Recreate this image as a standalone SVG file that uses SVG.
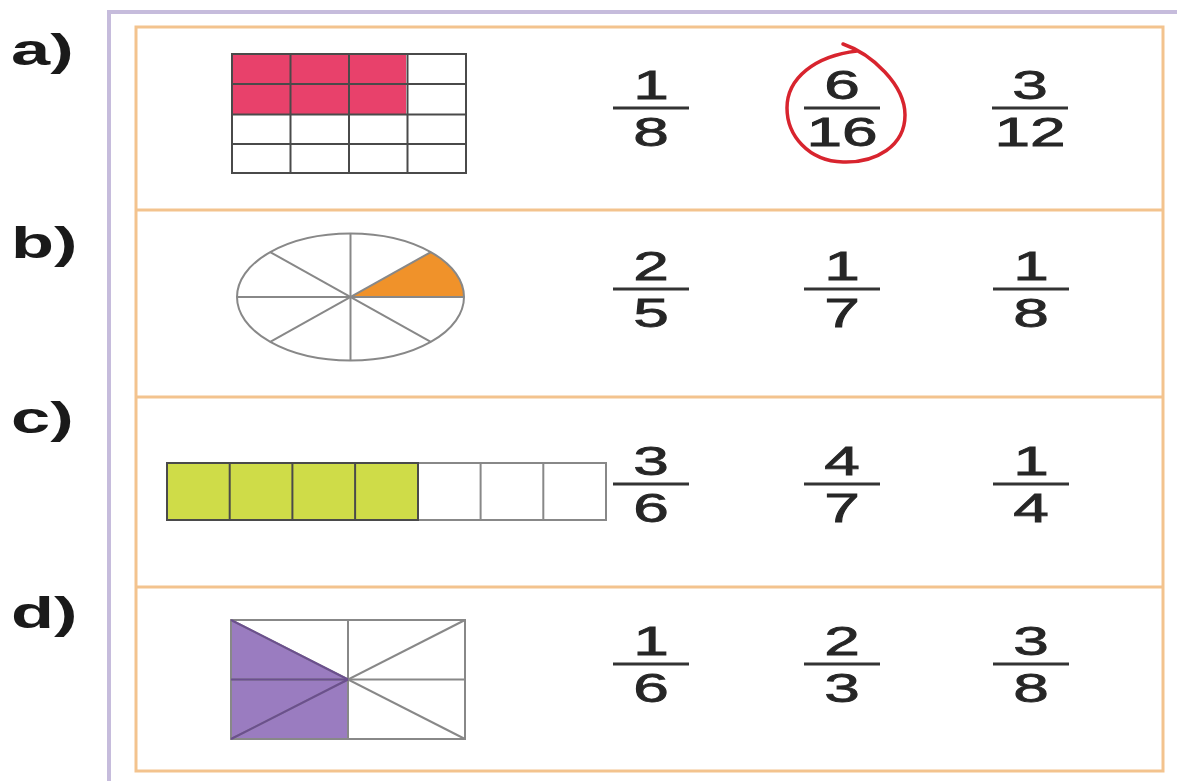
<svg xmlns="http://www.w3.org/2000/svg" width="1177" height="781" viewBox="0 0 1177 781">
<style>
.lbl{font-family:"Liberation Sans",Arial,sans-serif;font-weight:bold;font-size:44px;fill:#1a1a1a}
.num{font-family:"Liberation Sans",Arial,sans-serif;font-size:40px;fill:#262626;stroke:#262626;stroke-width:0.8;text-anchor:middle}
.bar{stroke:#333;stroke-width:3}
.gl{stroke:#4a4a4a;stroke-width:2;fill:none}
.ll{stroke:#888;stroke-width:2;fill:none}
.sep{stroke:#f3c38e;stroke-width:3}
</style>
<rect width="1177" height="781" fill="#fff"/>
<g id="frame">
<path d="M1177,12 H109 V781" fill="none" stroke="#c6bcdc" stroke-width="4"/>
<rect x="136" y="27" width="1027" height="744" fill="none" stroke="#f3c38e" stroke-width="3"/>
<line class="sep" x1="136" y1="210" x2="1163" y2="210"/>
<line class="sep" x1="136" y1="397" x2="1163" y2="397"/>
<line class="sep" x1="136" y1="587" x2="1163" y2="587"/>
</g>
<g id="labels">
<text class="lbl" transform="translate(11,65) scale(1.6,1)">a)</text>
<text class="lbl" transform="translate(11,258) scale(1.6,1)">b)</text>
<text class="lbl" transform="translate(11,433) scale(1.6,1)">c)</text>
<text class="lbl" transform="translate(11,628) scale(1.6,1)">d)</text>
</g>
<g id="row-a">
<rect x="232" y="54" width="174" height="61" fill="#e8416b"/>
<g class="gl">
<rect x="232" y="54" width="234" height="119"/>
<line x1="290.5" y1="54" x2="290.5" y2="173"/>
<line x1="349" y1="54" x2="349" y2="173"/>
<line x1="407.5" y1="54" x2="407.5" y2="173"/>
<line x1="232" y1="84" x2="466" y2="84"/>
<line x1="232" y1="114.5" x2="466" y2="114.5"/>
<line x1="232" y1="144" x2="466" y2="144"/>
</g>
<g id="a-frac">
<text class="num" transform="translate(651,99) scale(1.6,1)">1</text>
<line class="bar" x1="613" y1="108" x2="689" y2="108"/>
<text class="num" transform="translate(651,146) scale(1.6,1)">8</text>
<text class="num" transform="translate(842,99) scale(1.6,1)">6</text>
<line class="bar" x1="804" y1="108" x2="880" y2="108"/>
<text class="num" transform="translate(842,146) scale(1.6,1)">16</text>
<text class="num" transform="translate(1030,99) scale(1.6,1)">3</text>
<line class="bar" x1="992" y1="108" x2="1068" y2="108"/>
<text class="num" transform="translate(1030,146) scale(1.6,1)">12</text>
</g>
<path id="answer-loop" d="M843,44 C872,54 905,85 905,115 C905,146 876,163 843,162 C808,161 787,135 787,108 C787,78 815,56 857,51" fill="none" stroke="#d8242e" stroke-width="3.5" stroke-linecap="round"/>
</g>
<g id="row-b">
<ellipse cx="350.5" cy="297" rx="113.5" ry="63.5" fill="#fff"/>
<path d="M350.5,297 L464,297 A113.5,63.5 0 0 0 430.8,252.1 Z" fill="#f0922a"/>
<g class="ll">
<ellipse cx="350.5" cy="297" rx="113.5" ry="63.5"/>
<line x1="237" y1="297" x2="464" y2="297"/>
<line x1="350.5" y1="233.5" x2="350.5" y2="360.5"/>
<line x1="270.2" y1="252.1" x2="430.8" y2="341.9"/>
<line x1="270.2" y1="341.9" x2="430.8" y2="252.1"/>
</g>
<g id="b-frac">
<text class="num" transform="translate(651,280) scale(1.6,1)">2</text>
<line class="bar" x1="613" y1="289" x2="689" y2="289"/>
<text class="num" transform="translate(651,327) scale(1.6,1)">5</text>
<text class="num" transform="translate(842,280) scale(1.6,1)">1</text>
<line class="bar" x1="804" y1="289" x2="880" y2="289"/>
<text class="num" transform="translate(842,327) scale(1.6,1)">7</text>
<text class="num" transform="translate(1031,280) scale(1.6,1)">1</text>
<line class="bar" x1="993" y1="289" x2="1069" y2="289"/>
<text class="num" transform="translate(1031,327) scale(1.6,1)">8</text>
</g>
</g>
<g id="row-c">
<rect x="167" y="463" width="251" height="57" fill="#cfdc48"/>
<rect x="167" y="463" width="439" height="57" class="ll"/>
<g class="gl">
<rect x="167" y="463" width="251" height="57"/>
<line x1="229.7" y1="463" x2="229.7" y2="520"/>
<line x1="292.4" y1="463" x2="292.4" y2="520"/>
<line x1="355.1" y1="463" x2="355.1" y2="520"/>
</g>
<g class="ll">
<line x1="480.6" y1="463" x2="480.6" y2="520"/>
<line x1="543.3" y1="463" x2="543.3" y2="520"/>
</g>
<g id="c-frac">
<text class="num" transform="translate(651,475) scale(1.6,1)">3</text>
<line class="bar" x1="613" y1="484" x2="689" y2="484"/>
<text class="num" transform="translate(651,522) scale(1.6,1)">6</text>
<text class="num" transform="translate(842,475) scale(1.6,1)">4</text>
<line class="bar" x1="804" y1="484" x2="880" y2="484"/>
<text class="num" transform="translate(842,522) scale(1.6,1)">7</text>
<text class="num" transform="translate(1031,475) scale(1.6,1)">1</text>
<line class="bar" x1="993" y1="484" x2="1069" y2="484"/>
<text class="num" transform="translate(1031,522) scale(1.6,1)">4</text>
</g>
</g>
<g id="row-d">
<polygon points="231,620 348,679.5 348,739 231,739" fill="#9a7cc0"/>
<g class="ll">
<rect x="231" y="620" width="234" height="119"/>
<line x1="348" y1="620" x2="348" y2="739"/>
<line x1="231" y1="679.5" x2="465" y2="679.5"/>
<line x1="231" y1="620" x2="465" y2="739"/>
<line x1="231" y1="739" x2="465" y2="620"/>
</g>
<g stroke="#6b4f8e" stroke-width="2" fill="none">
<line x1="231" y1="679.5" x2="348" y2="679.5"/>
<line x1="231" y1="620" x2="348" y2="679.5"/>
<line x1="231" y1="739" x2="348" y2="679.5"/>
</g>
<g id="d-frac">
<text class="num" transform="translate(651,655) scale(1.6,1)">1</text>
<line class="bar" x1="613" y1="664" x2="689" y2="664"/>
<text class="num" transform="translate(651,702) scale(1.6,1)">6</text>
<text class="num" transform="translate(842,655) scale(1.6,1)">2</text>
<line class="bar" x1="804" y1="664" x2="880" y2="664"/>
<text class="num" transform="translate(842,702) scale(1.6,1)">3</text>
<text class="num" transform="translate(1031,655) scale(1.6,1)">3</text>
<line class="bar" x1="993" y1="664" x2="1069" y2="664"/>
<text class="num" transform="translate(1031,702) scale(1.6,1)">8</text>
</g>
</g>
</svg>
